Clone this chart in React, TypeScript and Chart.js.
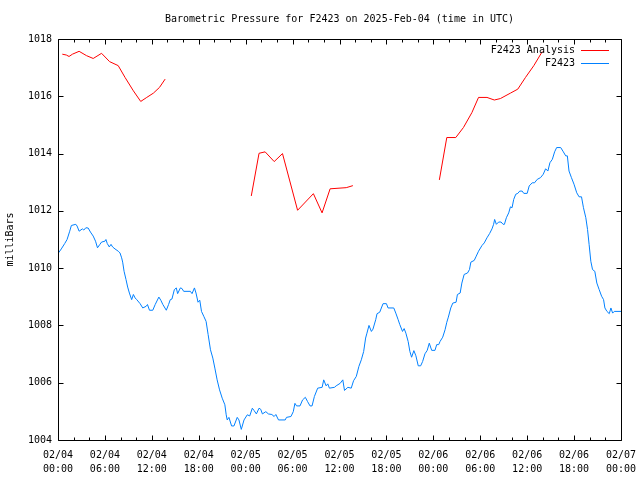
import { useEffect, useRef } from "react";
import { Chart, registerables } from "chart.js";

Chart.register(...registerables);

const FONT = "'DejaVu Sans Mono', 'Liberation Mono', monospace";

const chartTitle = "Barometric Pressure for F2423 on 2025-Feb-04 (time in UTC)";
const yAxisTitle = "milliBars";
const analysisLabel = "F2423 Analysis";
const obsLabel = "F2423";

// x tick labels every 6 hours from 02/04 00:00 to 02/07 00:00
const xTickDates = ["02/04", "02/04", "02/04", "02/04", "02/05", "02/05", "02/05", "02/05", "02/06", "02/06", "02/06", "02/06", "02/07"];
const xTickTimes = ["00:00", "06:00", "12:00", "18:00", "00:00", "06:00", "12:00", "18:00", "00:00", "06:00", "12:00", "18:00", "00:00"];

// Analysis series (hours since 02/04 00:00 UTC, millibars); null = gap
const analysisHours = [
  0.55, 1.07, 1.41, 1.85, 2.7, 3.64, 4.5, 5.57, 6.6, 7.7, 8.57, 9.64, 10.58, 11.35, 12.2, 12.98, 13.7,
  19,
  24.72, 25.71, 26.49, 27.65, 28.71, 30.64, 32.66, 33.77, 34.8, 36.86, 37.71,
  43,
  48.77, 49.72, 50.87, 51.85, 52.93, 53.78, 54.86, 55.8, 56.57, 57.86, 58.8, 59.79, 60.85, 61.93,
];
const analysisPressure = [
  1017.47, 1017.44, 1017.39, 1017.47, 1017.57, 1017.42, 1017.32, 1017.5, 1017.21, 1017.07, 1016.66, 1016.19, 1015.82, 1015.96, 1016.11, 1016.31, 1016.6,
  null,
  1012.52, 1014.01, 1014.06, 1013.72, 1014.0, 1012.02, 1012.6, 1011.93, 1012.77, 1012.81, 1012.88,
  null,
  1013.08, 1014.56, 1014.56, 1014.91, 1015.43, 1015.96, 1015.96, 1015.87, 1015.92, 1016.11, 1016.25, 1016.66, 1017.07, 1017.56,
];

// Observed series
const obsHours = [
  0, 0.42, 0.86, 1.16, 1.5, 1.71, 2.28, 2.44, 2.7, 3.12, 3.3, 3.56, 3.86, 4.15, 4.5, 4.8, 5.05, 5.36, 5.57, 6.0,
  6.13, 6.3, 6.56, 6.78, 6.98, 7.29, 7.71, 7.93, 8.14, 8.27, 8.45, 8.7, 8.91, 9.13, 9.42, 9.64, 9.86, 10.07, 10.5, 10.84,
  11.28, 11.44, 11.7, 12.12, 12.43, 12.9, 13.15, 13.41, 13.85, 14.14, 14.36, 14.57, 14.88, 15.13, 15.3, 15.65, 15.85, 16.07, 16.93, 17.14,
  17.45, 17.65, 17.91, 18.13, 18.35, 18.64, 18.94, 19.2, 19.5, 19.8, 20.06, 20.35, 20.66, 21.0, 21.34, 21.51, 21.64, 21.86, 22.2, 22.5,
  22.92, 23.14, 23.44, 23.79, 24.21, 24.52, 24.85, 25.07, 25.37, 25.71, 25.93, 26.14, 26.58, 26.91, 27.35, 27.64, 27.86, 28.2, 29.06, 29.22,
  29.79, 30.09, 30.3, 30.51, 30.95, 31.28, 31.63, 31.92, 32.23, 32.49, 32.79, 33.21, 33.78, 33.98, 34.29, 34.5, 34.71, 35.36, 35.57, 36.09,
  36.42, 36.64, 37.07, 37.5, 37.8, 38.15, 38.48, 38.79, 39.09, 39.34, 39.51, 39.77, 40.08, 40.28, 40.63, 40.8, 41.14, 41.57, 42.0, 42.21,
  42.94, 43.2, 43.5, 43.71, 44.06, 44.27, 44.49, 44.78, 45.0, 45.22, 45.51, 45.77, 46.07, 46.38, 46.63, 46.93, 47.22, 47.48, 47.79, 48.21,
  48.43, 48.69, 48.86, 49.2, 49.5, 49.72, 49.92, 50.23, 50.49, 50.91, 51.08, 51.43, 51.65, 51.94, 52.37, 52.62, 52.8, 53.23, 53.49, 53.78,
  54.22, 54.51, 54.86, 55.2, 55.5, 55.71, 55.84, 56.06, 56.35, 56.66, 56.92, 57.09, 57.34, 57.64, 57.86, 58.07, 58.28, 58.54, 58.8, 59.05,
  59.36, 59.57, 60.0, 60.26, 60.65, 60.94, 61.29, 61.71, 62.06, 62.36, 62.65, 62.91, 63.22, 63.51, 63.77, 64.29, 64.63, 64.93, 65.14, 65.35,
  65.66, 65.99, 66.34, 66.64, 66.95, 67.2, 67.5, 67.72, 67.92, 68.14, 68.36, 68.65, 68.91, 69.21, 69.52, 69.77, 69.94, 70.2, 70.5, 70.71,
  70.93, 71.14, 71.36, 72,
];
const obsPressure = [
  1010.51, 1010.67, 1010.86, 1011.0, 1011.29, 1011.49, 1011.53, 1011.47, 1011.29, 1011.37, 1011.33, 1011.41, 1011.4, 1011.26, 1011.12, 1010.94, 1010.71, 1010.83, 1010.91, 1010.94,
  1011.0, 1010.86, 1010.74, 1010.83, 1010.74, 1010.67, 1010.59, 1010.53, 1010.36, 1010.21, 1009.89, 1009.6, 1009.34, 1009.13, 1008.9, 1009.08, 1008.96, 1008.9, 1008.76, 1008.61,
  1008.67, 1008.73, 1008.53, 1008.53, 1008.73, 1008.99, 1008.88, 1008.73, 1008.53, 1008.73, 1008.9, 1008.92, 1009.25, 1009.31, 1009.11, 1009.31, 1009.29, 1009.19, 1009.19, 1009.11,
  1009.31, 1009.13, 1008.81, 1008.88, 1008.49, 1008.32, 1008.14, 1007.68, 1007.15, 1006.86, 1006.51, 1006.1, 1005.75, 1005.46, 1005.23, 1004.88, 1004.7, 1004.79, 1004.49, 1004.49,
  1004.79, 1004.7, 1004.37, 1004.7, 1004.88, 1004.84, 1005.11, 1005.03, 1004.91, 1005.11, 1005.07, 1004.91, 1004.99, 1004.91, 1004.89, 1004.82, 1004.89, 1004.7, 1004.7, 1004.79,
  1004.82, 1004.99, 1005.28, 1005.19, 1005.19, 1005.4, 1005.49, 1005.34, 1005.19, 1005.19, 1005.52, 1005.81, 1005.84, 1006.1, 1005.89, 1005.96, 1005.81, 1005.84, 1005.89, 1005.98,
  1006.1, 1005.73, 1005.84, 1005.81, 1006.07, 1006.22, 1006.57, 1006.8, 1007.09, 1007.56, 1007.73, 1008.0, 1007.79, 1007.87, 1008.2, 1008.41, 1008.46, 1008.76, 1008.76, 1008.61,
  1008.61, 1008.43, 1008.2, 1008.03, 1007.79, 1007.89, 1007.73, 1007.44, 1007.09, 1006.89, 1007.12, 1006.94, 1006.59, 1006.59, 1006.74, 1007.01, 1007.13, 1007.38, 1007.13, 1007.13,
  1007.33, 1007.33, 1007.44, 1007.59, 1007.85, 1008.11, 1008.29, 1008.61, 1008.78, 1008.81, 1009.08, 1009.13, 1009.48, 1009.78, 1009.83, 1009.95, 1010.21, 1010.27, 1010.42, 1010.59,
  1010.79, 1010.88, 1011.06, 1011.21, 1011.37, 1011.53, 1011.7, 1011.53, 1011.61, 1011.61, 1011.53, 1011.53, 1011.76, 1011.93, 1012.14, 1012.11, 1012.4, 1012.58, 1012.61, 1012.69,
  1012.69, 1012.61, 1012.61, 1012.87, 1012.98, 1012.98, 1013.1, 1013.16, 1013.28, 1013.47, 1013.39, 1013.68, 1013.8, 1014.06, 1014.21, 1014.21, 1014.06, 1013.92, 1013.92, 1013.39,
  1013.16, 1012.93, 1012.63, 1012.49, 1012.49, 1012.11, 1011.76, 1011.35, 1010.83, 1010.24, 1009.95, 1009.89, 1009.48, 1009.25, 1009.02, 1008.9, 1008.61, 1008.49, 1008.41, 1008.61,
  1008.43, 1008.49, 1008.49, 1008.49,
];

const X_MIN = 0;
const X_MAX = 72;
const X_MAJOR = 6;
const X_MINOR = 2;
const Y_MIN = 1004;
const Y_MAX = 1018;
const Y_STEP = 2;

const RED = "#ff0000";
const BLUE = "#0080ff";

const framePlugin = {
  id: "gnuFrame",
  afterDatasetsDraw(chart: any) {
    const { ctx, chartArea: a, scales } = chart;
    const L = Math.round(a.left) + 0.5;
    const R = Math.round(a.right) + 0.5;
    const T = Math.round(a.top) + 0.5;
    const B = Math.round(a.bottom) + 0.5;
    ctx.save();
    ctx.strokeStyle = "#000";
    ctx.lineWidth = 1;
    ctx.beginPath();
    ctx.rect(L, T, R - L, B - T);
    ctx.stroke();
    // x ticks (inward, top and bottom)
    ctx.beginPath();
    for (let h = X_MIN; h <= X_MAX; h += X_MINOR) {
      const px = Math.round(scales.x.getPixelForValue(h)) + 0.5;
      const len = h % X_MAJOR === 0 ? 5 : 3;
      ctx.moveTo(px, B);
      ctx.lineTo(px, B - len);
      ctx.moveTo(px, T);
      ctx.lineTo(px, T + len);
    }
    // y ticks (inward, left and right)
    for (const t of scales.y.ticks) {
      const py = Math.round(scales.y.getPixelForValue(t.value)) + 0.5;
      ctx.moveTo(L, py);
      ctx.lineTo(L + 5, py);
      ctx.moveTo(R, py);
      ctx.lineTo(R - 5, py);
    }
    ctx.stroke();

    // key (legend) in the top-right corner of the plot
    ctx.font = "10px " + FONT;
    ctx.textAlign = "right";
    ctx.textBaseline = "middle";
    ctx.fillStyle = "#000";
    chart.data.datasets.forEach((ds: any, i: number) => {
      const y = Math.round(a.top + 11 + i * 12.5) + 0.5;
      ctx.fillText(ds.label, a.right - 46, y);
      ctx.strokeStyle = ds.borderColor;
      ctx.beginPath();
      ctx.moveTo(a.right - 40, y);
      ctx.lineTo(a.right - 12, y);
      ctx.stroke();
    });
    ctx.restore();
  },
};

export default function App() {
  const ref = useRef<HTMLCanvasElement | null>(null);

  useEffect(() => {
    if (!ref.current) return;
    const analysisData = analysisHours.map((h, i) => ({ x: h, y: analysisPressure[i] }));
    const obsData = obsHours.map((h, i) => ({ x: h, y: obsPressure[i] }));
    const chart = new Chart(ref.current, {
      type: "line",
      data: {
        datasets: [
          {
            label: analysisLabel,
            data: analysisData as any,
            borderColor: RED,
            backgroundColor: RED,
            borderWidth: 1,
            pointRadius: 0,
            spanGaps: false,
            tension: 0,
          },
          {
            label: obsLabel,
            data: obsData as any,
            borderColor: BLUE,
            backgroundColor: BLUE,
            borderWidth: 1,
            pointRadius: 0,
            spanGaps: false,
            tension: 0,
          },
        ],
      },
      plugins: [framePlugin],
      options: {
        responsive: false,
        animation: false,
        devicePixelRatio: 1,
        layout: { autoPadding: false, padding: { top: 0, right: 19, bottom: 0, left: 0 } },
        plugins: {
          legend: { display: false },
          tooltip: { enabled: false },
          title: {
            display: true,
            text: chartTitle,
            fullSize: false,
            color: "#000",
            font: { family: FONT, size: 10, weight: "normal" as any },
            padding: { top: 13, bottom: 14 },
          },
        },
        scales: {
          x: {
            type: "linear",
            min: X_MIN,
            max: X_MAX,
            grid: { display: false, drawTicks: false },
            border: { display: false },
            afterFit: (s: any) => {
              s.height = 40;
              s.paddingLeft = 0;
              s.paddingRight = 0;
            },
            ticks: {
              stepSize: X_MAJOR,
              autoSkip: false,
              maxRotation: 0,
              padding: 8,
              color: "#000",
              font: { family: FONT, size: 10, lineHeight: 1.4 },
              callback: (v: any) => {
                const i = Math.round(Number(v) / X_MAJOR);
                return [xTickDates[i], xTickTimes[i]];
              },
            },
          },
          y: {
            type: "linear",
            min: Y_MIN,
            max: Y_MAX,
            grid: { display: false, drawTicks: false },
            border: { display: false },
            afterFit: (s: any) => {
              s.width = 58;
              s.paddingTop = 0;
              s.paddingBottom = 0;
            },
            title: {
              display: true,
              text: yAxisTitle,
              color: "#000",
              font: { family: FONT, size: 10 },
              padding: { top: 4, bottom: 0 },
            },
            ticks: {
              stepSize: Y_STEP,
              padding: 6,
              color: "#000",
              font: { family: FONT, size: 10 },
              callback: (v: any) => String(Math.round(Number(v))),
            },
          },
        },
      },
    });
    return () => chart.destroy();
  }, []);

  return (
    <div style={{ position: "absolute", left: 0, top: 0, width: 640, height: 480, background: "#fff" }}>
      <canvas ref={ref} width={640} height={480} style={{ display: "block" }} />
    </div>
  );
}
